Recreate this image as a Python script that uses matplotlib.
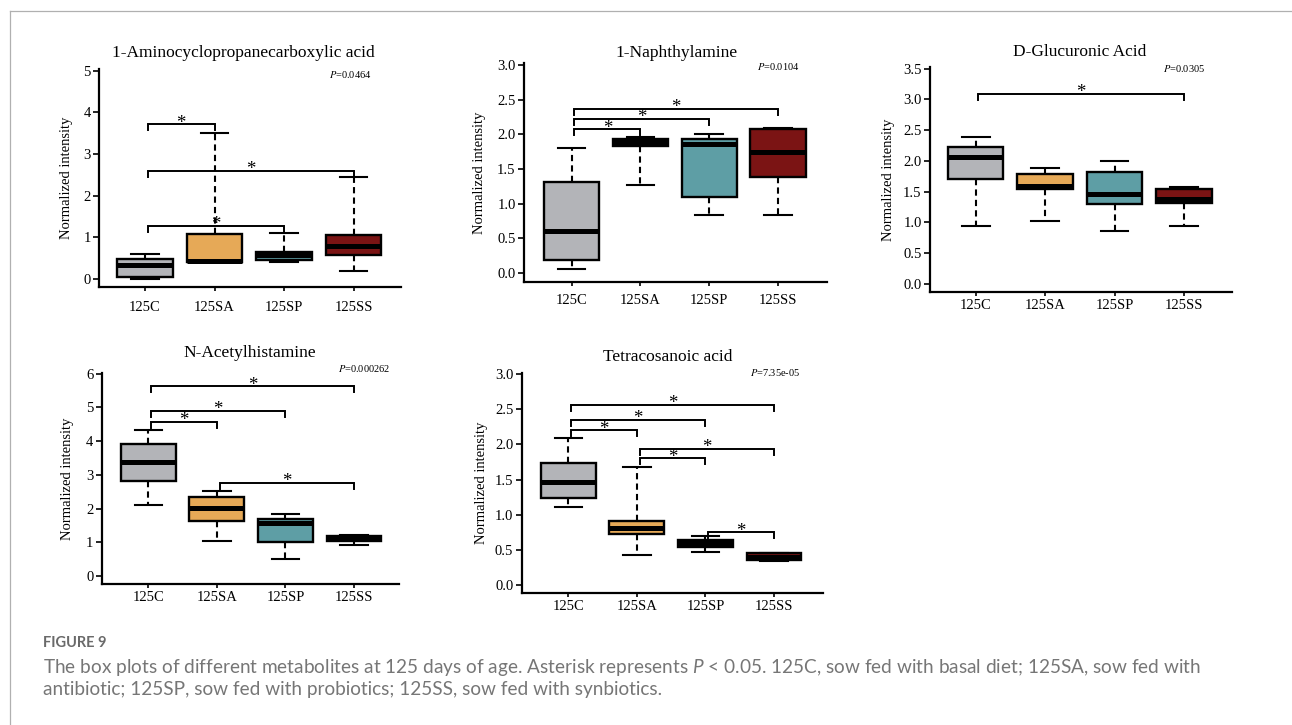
import matplotlib
matplotlib.use("Agg")
import matplotlib.pyplot as plt
from matplotlib.lines import Line2D
import numpy as np

W, H, DPI = 1292, 725, 100

categories = ["125C", "125SA", "125SP", "125SS"]
box_colors = ["#b3b4b8", "#e6a957", "#5e9ea5", "#7b1414"]

# 1-Aminocyclopropanecarboxylic acid
acc_low = [0.00, 0.40, 0.40, 0.20]
acc_q1 = [0.06, 0.40, 0.46, 0.58]
acc_med = [0.34, 0.44, 0.58, 0.80]
acc_q3 = [0.48, 1.07, 0.64, 1.06]
acc_high = [0.60, 3.50, 1.10, 2.45]
acc_sig = [(0, 1, 3.72), (0, 3, 2.60), (0, 2, 1.28)]
acc_yticks = [0, 1, 2, 3, 4, 5]
acc_p = "0.0464"

# 1-Naphthylamine
nap_low = [0.06, 1.27, 0.84, 0.84]
nap_q1 = [0.19, 1.83, 1.09, 1.39]
nap_med = [0.60, 1.89, 1.86, 1.74]
nap_q3 = [1.31, 1.935, 1.94, 2.085]
nap_high = [1.81, 1.97, 2.00, 2.10]
nap_sig = [(0, 1, 2.075), (0, 2, 2.23), (0, 3, 2.37)]
nap_yticks = [0.0, 0.5, 1.0, 1.5, 2.0, 2.5, 3.0]
nap_p = "0.0104"

# D-Glucuronic Acid
glu_low = [0.95, 1.03, 0.86, 0.95]
glu_q1 = [1.70, 1.55, 1.30, 1.31]
glu_med = [2.06, 1.59, 1.47, 1.38]
glu_q3 = [2.23, 1.78, 1.82, 1.54]
glu_high = [2.38, 1.89, 2.00, 1.58]
glu_sig = [(0, 3, 3.09)]
glu_yticks = [0.0, 0.5, 1.0, 1.5, 2.0, 2.5, 3.0, 3.5]
glu_p = "0.0305"

# N-Acetylhistamine
nah_low = [2.11, 1.03, 0.50, 0.92]
nah_q1 = [2.83, 1.63, 1.02, 1.05]
nah_med = [3.37, 2.01, 1.56, 1.09]
nah_q3 = [3.90, 2.34, 1.68, 1.19]
nah_high = [4.34, 2.51, 1.84, 1.22]
nah_sig = [(0, 3, 5.62), (0, 2, 4.90), (0, 1, 4.58), (1, 3, 2.77)]
nah_yticks = [0, 1, 2, 3, 4, 5, 6]
nah_p = "0.000262"

# Tetracosanoic acid
tet_low = [1.11, 0.43, 0.47, 0.34]
tet_q1 = [1.24, 0.725, 0.535, 0.355]
tet_med = [1.47, 0.815, 0.60, 0.40]
tet_q3 = [1.73, 0.91, 0.64, 0.45]
tet_high = [2.085, 1.68, 0.69, 0.46]
tet_sig = [(0, 3, 2.56), (0, 2, 2.35), (0, 1, 2.20), (1, 3, 1.94), (1, 2, 1.80), (2, 3, 0.75)]
tet_yticks = [0.0, 0.5, 1.0, 1.5, 2.0, 2.5, 3.0]
tet_p = "7.35e-05"

titles = ["1-Aminocyclopropanecarboxylic acid", "1-Naphthylamine", "D-Glucuronic Acid",
          "N-Acetylhistamine", "Tetracosanoic acid"]

caption_head = "FIGURE 9"
caption_line1 = ("The box plots of different metabolites at 125 days of age. Asterisk represents "
                 "$P$ < 0.05. 125C, sow fed with basal diet; 125SA, sow fed with")
caption_line2 = "antibiotic; 125SP, sow fed with probiotics; 125SS, sow fed with synbiotics."

plt.rcParams['mathtext.fontset'] = 'custom'
plt.rcParams['mathtext.it'] = 'Lato:italic'
plt.rcParams['mathtext.rm'] = 'Lato'

SERIF = "Liberation Serif"

layouts = [
    dict(l=99, t=69, r=401, b=287, c1=145, c4=353.5, ylim=(-0.192, 5.04), ylx=73, xpad=7,
         title=(243, 53), ptxt=(329, 75)),
    dict(l=524, t=63.3, r=827, b=281.7, c1=571.7, c4=778, ylim=(-0.13, 3.03), ylx=486, xpad=5.5,
         title=(677, 53), ptxt=(757, 67)),
    dict(l=930, t=66.7, r=1232, b=292.3, c1=975.7, c4=1184, ylim=(-0.135, 3.53), ylx=895, xpad=1.5,
         title=(1080, 52), ptxt=(1163, 69)),
    dict(l=101.7, t=373, r=399, b=584.3, c1=148.3, c4=354, ylim=(-0.246, 6.02), ylx=74, xpad=1.5,
         title=(250, 353), ptxt=(338, 369)),
    dict(l=521.7, t=373, r=823, b=593.3, c1=568.3, c4=774, ylim=(-0.118, 3.015), ylx=488, xpad=1.5,
         title=(668, 357), ptxt=(750, 372)),
]

panels = [
    (acc_low, acc_q1, acc_med, acc_q3, acc_high, acc_sig, acc_yticks, acc_p, "{:.0f}"),
    (nap_low, nap_q1, nap_med, nap_q3, nap_high, nap_sig, nap_yticks, nap_p, "{:.1f}"),
    (glu_low, glu_q1, glu_med, glu_q3, glu_high, glu_sig, glu_yticks, glu_p, "{:.1f}"),
    (nah_low, nah_q1, nah_med, nah_q3, nah_high, nah_sig, nah_yticks, nah_p, "{:.0f}"),
    (tet_low, tet_q1, tet_med, tet_q3, tet_high, tet_sig, tet_yticks, tet_p, "{:.1f}"),
]

fig = plt.figure(figsize=(W / DPI, H / DPI), dpi=DPI)
fig.patch.set_facecolor("white")

for title, lay, (lo, q1, med, q3, hi, sig, yticks, pval, fmt) in zip(titles, layouts, panels):
    ax = fig.add_axes([lay['l'] / W, 1 - lay['b'] / H, (lay['r'] - lay['l']) / W, (lay['b'] - lay['t']) / H])
    spacing = (lay['c4'] - lay['c1']) / 3.0
    x0 = 1 - (lay['c1'] - lay['l']) / spacing
    x1 = 4 + (lay['r'] - lay['c4']) / spacing
    ax.set_xlim(x0, x1)
    ax.set_ylim(*lay['ylim'])
    stats = [dict(med=med[i], q1=q1[i], q3=q3[i], whislo=lo[i], whishi=hi[i], fliers=[])
             for i in range(4)]
    bp = ax.bxp(stats, positions=[1, 2, 3, 4], widths=0.8, capwidths=0.4, patch_artist=True,
                showfliers=False,
                boxprops=dict(linewidth=1.7, edgecolor="black"),
                whiskerprops=dict(linewidth=1.5, linestyle=(0, (3, 2)), color="black"),
                capprops=dict(linewidth=1.5, color="black"),
                medianprops=dict(linewidth=3.6, color="black", solid_capstyle="butt"))
    for patch, c in zip(bp['boxes'], box_colors):
        patch.set_facecolor(c)
    for s in ["top", "right"]:
        ax.spines[s].set_visible(False)
    for s in ["left", "bottom"]:
        ax.spines[s].set_linewidth(1.6)
    ax.set_yticks(yticks, [fmt.format(v) for v in yticks])
    ax.set_xticks([1, 2, 3, 4], categories)
    ax.tick_params(axis='y', length=4, width=1.2, labelsize=10.5, pad=2)
    ax.tick_params(axis='x', length=3, width=1.2, labelsize=10.5, pad=lay['xpad'])
    for lbl in ax.get_xticklabels() + ax.get_yticklabels():
        lbl.set_fontfamily(SERIF)
    ax.set_ylabel("Normalized intensity", fontsize=10.5, family=SERIF)
    ax.yaxis.set_label_coords(-(lay['l'] - lay['ylx']) / (lay['r'] - lay['l']), 0.5)
    ppu = (lay['b'] - lay['t']) / (lay['ylim'][1] - lay['ylim'][0])
    tick = 6.0 / ppu
    for i, j, yb in sig:
        xa, xb = i + 1 + 0.04, j + 1
        ax.plot([xa, xa, xb, xb], [yb - tick, yb, yb, yb - tick], color="black", lw=1.4,
                solid_joinstyle="miter", clip_on=False)
        ax.text((xa + xb) / 2, yb - 3.5 / ppu, "*", ha="center", va="baseline", fontsize=13.5,
                family=SERIF, clip_on=False)
    fig.text(lay['title'][0] / W, 1 - lay['title'][1] / H, title, ha="center", va="center",
             fontsize=12.5, family=SERIF)
    fig.text(lay['ptxt'][0] / W, 1 - lay['ptxt'][1] / H, "$P$=" + pval, ha="left", va="center",
             fontsize=7.5, family=SERIF, math_fontfamily="stix")

fig.add_artist(Line2D([9.5 / W, 9.5 / W], [0, 1 - 10.5 / H], color="#b0b0b0", lw=0.9,
                      transform=fig.transFigure))
fig.add_artist(Line2D([9.5 / W, 1], [1 - 10.5 / H, 1 - 10.5 / H], color="#b0b0b0", lw=0.9,
                      transform=fig.transFigure))

fig.text(43 / W, 1 - 643 / H, caption_head, ha="left", va="center", fontsize=10.5,
         family="Lato", weight="bold", color="#6a6a6a")
renderer = fig.canvas.get_renderer()
t1 = fig.text(43 / W, 1 - 668 / H, caption_line1, ha="left", va="center", fontsize=12,
              family="Lato", color="#767676", math_fontfamily="custom")
w1 = t1.get_window_extent(renderer).width
fs = 12 * 1157.0 / w1
t1.set_fontsize(fs)
fig.text(43 / W, 1 - 690 / H, caption_line2, ha="left", va="center", fontsize=fs,
         family="Lato", color="#767676")

fig.savefig("out.png", dpi=DPI)
